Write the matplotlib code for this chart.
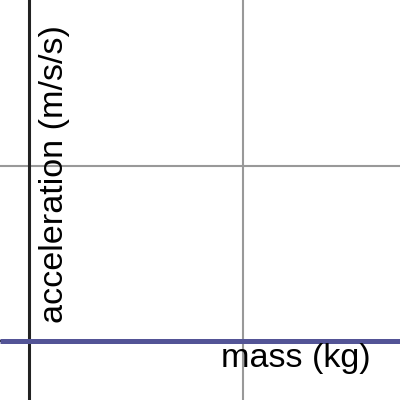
import numpy as np
import matplotlib.pyplot as plt

plt.rcParams['font.family'] = ['Liberation Sans', 'DejaVu Sans']

# graph window (data units)
x_range = [-0.138, 1.739]
y_range = [-0.338, 1.954]
x_grid = [1]
y_grid = [1]

# plotted relation: acceleration vs mass
mass = [-0.138, 1.739]
acceleration = [0, 0]

x_label = 'mass (kg)'
y_label = 'acceleration (m/s/s)'

fig = plt.figure(figsize=(4, 4), dpi=100)
ax = fig.add_axes([0, 0, 1, 1])
ax.set_xlim(x_range)
ax.set_ylim(y_range)
ax.axis('off')

for gx in x_grid:
    ax.axvline(gx, color='#999999', lw=1.5, zorder=1)
for gy in y_grid:
    ax.axhline(gy, color='#999999', lw=1.5, zorder=1)

ax.axvline(0, color='#222222', lw=2.2, zorder=2)
ax.axhline(0, color='#222222', lw=1.5, zorder=2)

ax.plot(mass, acceleration, color='#535496', lw=3.6, zorder=3,
        solid_capstyle='butt')

fig.text(221 / 400, 1 - 367 / 400, x_label, fontsize=24.6,
         ha='left', va='baseline', color='black')
fig.text(54 / 400, 1 - 323 / 400, y_label, fontsize=24.6, rotation=90,
         ha='center', va='bottom', color='black')

fig.savefig('out.png', dpi=100)
